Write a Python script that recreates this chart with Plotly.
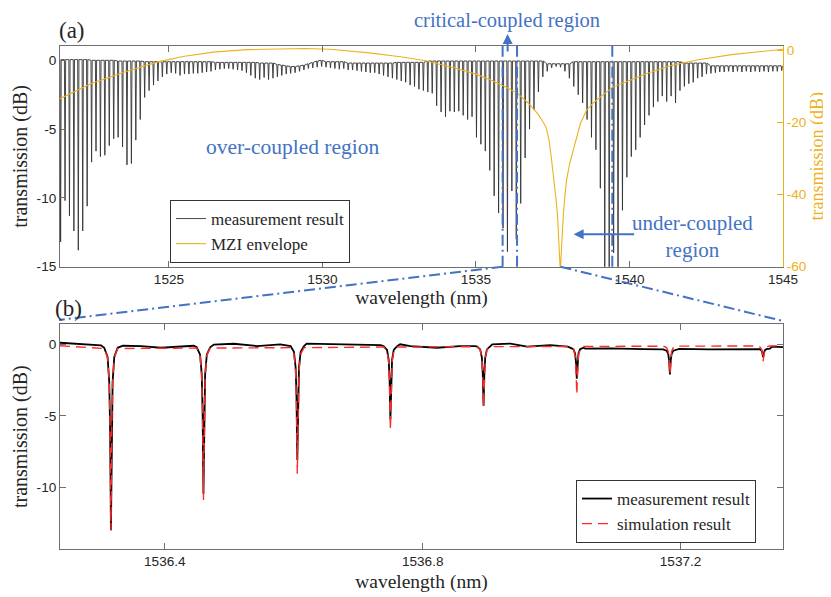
import numpy as np
import plotly.graph_objects as go

# ---------------- data: panel (a) ----------------
FIRST_DIP_A = 1521.47      # nm, first resonance in panel (a)
FSR_A = 0.1441             # nm, resonance spacing
DIP_HALF_A = 0.02          # nm, half width used to draw each dip

DEPTH_A = [
    -13.2, -10.2, -11.3, -12.4, -13.8, -12.4, -10.6, -7.4, -6.6, -7.0,
    -6.9, -6.2, -5.7, -5.6, -6.3, -7.6, -7.5, -5.8, -4.3, -2.7,
    -2.2, -1.8, -1.5, -1.2, -1.0, -0.9, -0.95, -1.1, -1.0, -1.0,
    -0.95, -0.95, -0.9, -0.85, -0.8, -0.7, -0.65, -0.6, -0.6, -0.65,
    -0.7, -0.75, -0.9, -1.1, -1.3, -1.4, -1.25, -1.4, -1.3, -1.2,
    -1.1, -1.0, -0.95, -0.9, -0.8, -0.7, -0.6, -0.55, -0.5, -0.45,
    -0.5, -0.55, -0.6, -0.65, -0.6, -0.7, -0.7, -0.75, -0.8, -0.85,
    -0.9, -0.9, -1.0, -1.1, -1.2, -1.3, -1.4, -1.5, -1.6, -1.8,
    -1.9, -2.1, -2.2, -2.3, -2.4, -3.3, -3.75, -4.1, -3.7, -3.75,
    -3.7, -4.0, -4.3, -4.1, -5.6, -6.1, -6.6, -8.0, -9.85, -11.1,
    -12.2, -13.9, -9.5, -13.0, -10.4, -7.1, -5.0, -3.6, -2.3, -1.2,
    -0.8, -0.55, -0.45, -0.5, -0.8, -1.3, -1.9, -2.5, -3.1, -4.3,
    -5.6, -6.5, -9.3, -16.0, -16.0, -14.0, -16.0, -10.9, -8.5, -7.0,
    -6.5, -5.6, -4.7, -4.0, -3.4, -3.0, -2.6, -3.0, -2.6, -3.1,
    -2.2, -1.9, -1.7, -1.6, -1.3, -1.2, -1.0, -0.95, -0.9, -0.85,
    -0.85, -0.8, -0.85, -0.8, -0.85, -0.8, -0.85, -0.8, -0.85, -0.8,
    -0.85, -0.8, -0.8, -0.75,
]
TOP_A = (
    [0.05] * 7 + [0.0] * 6 + [-0.05] * 6 + [-0.1] * 16 + [-0.15] * 10
    + [-0.2] * 4 + [-0.3, -0.35, -0.4, -0.45, -0.45, -0.4, -0.35, -0.25, -0.15, -0.05, 0.0]
    + [-0.1] * 5 + [-0.2] * 11 + [-0.15] * 7 + [-0.05] * 27
    + [-0.25] * 6 + [-0.1] * 25 + [-0.2] * 6 + [-0.4] * 17
)

MZI_NM = [1521.45, 1522.47, 1523.56, 1524.64, 1525.46, 1526.44, 1527.54, 1528.62,
          1529.44, 1530.25, 1531.52, 1532.54, 1533.32, 1534.40, 1535.00, 1535.50,
          1536.00, 1536.36, 1536.70, 1537.00, 1537.15, 1537.29, 1537.38, 1537.45,
          1537.53, 1537.61, 1537.66, 1537.70, 1537.73, 1537.75, 1537.77, 1537.80,
          1537.85, 1537.90, 1537.95, 1538.05, 1538.17, 1538.28, 1538.40, 1538.60,
          1538.82, 1539.05, 1539.46, 1540.02, 1540.54, 1541.36, 1542.24, 1543.33,
          1544.42, 1545.00]
MZI_DB = [-13.4, -9.2, -6.0, -3.2, -1.7, -0.5, 0.2, 0.45,
          0.5, 0.3, -0.7, -1.8, -2.8, -5.1, -6.6, -8.3,
          -10.3, -12.0, -14.6, -17.5, -19.3, -21.5, -25.0, -29.5,
          -35.0, -41.5, -46.5, -52.6, -57.5, -62.0, -57.5, -52.0,
          -45.0, -40.0, -36.0, -31.5, -27.7, -23.5, -20.3, -16.6,
          -14.6, -12.9, -10.2, -8.3, -6.5, -4.2, -2.6, -1.2,
          -0.3, 0.3]

# ---------------- data: panel (b) ----------------
B_DIP_NM = [1536.3164, 1536.4599, 1536.6055, 1536.7499, 1536.8944, 1537.0390, 1537.1835, 1537.3280]
B_MEAS_DEPTH = [-13.0, -10.45, -8.1, -5.26, -4.3, -2.4, -2.1, -0.9]
B_MEAS_LOCAL = [-0.05, -0.05, 0.0, -0.05, -0.08, -0.2, -0.33, -0.3]
B_SIM_DEPTH = [-13.0, -10.9, -9.05, -6.0, -4.4, -3.5, -2.1, -1.2]
B_SIM_LOCAL = [-0.1] * 8

B_MEAS_BASE_NM = [1536.2374, 1536.275, 1536.301, 1536.335, 1536.363, 1536.394, 1536.42,
                  1536.445, 1536.476, 1536.507, 1536.543, 1536.579, 1536.620, 1536.662,
                  1536.704, 1536.735, 1536.765, 1536.781, 1536.822, 1536.858, 1536.880,
                  1536.908, 1536.936, 1536.962, 1536.998, 1537.025, 1537.052, 1537.091,
                  1537.142, 1537.169, 1537.198, 1537.245, 1537.314, 1537.342, 1537.3589]
B_MEAS_BASE_DB = [0.11, 0.0, -0.07, -0.1, -0.12, -0.24, -0.16,
                  -0.1, -0.02, 0.04, -0.12, 0.0, 0.05, 0.03,
                  -0.02, -0.05, 0.0, -0.12, -0.24, -0.12, -0.12,
                  0.0, 0.05, -0.16, -0.05, -0.16, -0.3, -0.28,
                  -0.33, -0.34, -0.32, -0.35, -0.35, -0.16, -0.2]
B_SIM_BASE_NM = [1536.2374, 1537.3589]
B_SIM_BASE_DB = [-0.1, -0.1]

# resonance line-shape template (b)
SHAPE_OFFSET_NM = [-0.0104, -0.0052, -0.0026, -0.0013, 0.0, 0.0013, 0.0026, 0.0052, 0.0104]
SHAPE_FRAC = [0.015, 0.065, 0.2, 0.45, 1.0, 0.45, 0.2, 0.065, 0.015]

# ---------------- styles ----------------
SERIF = "Liberation Serif, Times New Roman, serif"
SANS = "Liberation Sans, Arial, sans-serif"
AX = "#6f6f6f"
TXT = "#262626"
ORANGE = "#EDB120"
BLUE = "#4472C4"

# the page body adds an 8px margin; size the figure so it ends at the window edge
OFF = 8
W, H = 831 - OFF, 597 - OFF
ML, MR, MT, MB = 60 - OFF, W - (783 - OFF), 46 - OFF, H - (549 - OFF)
PW, PH = W - ML - MR, H - MT - MB


def px(sx):
    """screen pixel x -> paper x"""
    return (sx - OFF - ML) / PW


def py(sy):
    """screen pixel y -> paper y"""
    return (H - MB - (sy - OFF)) / PH


A_DOM = [py(266.7), 1.0]
B_DOM = [0.0, py(324.3)]
A_XR = [1521.45, 1545.0]
B_XR = [1536.2374, 1537.3589]

# ---------------- build traces ----------------
centers_a = FIRST_DIP_A + FSR_A * np.arange(len(DEPTH_A))
xa, ya = [], []
for c, d, t in zip(centers_a, DEPTH_A, TOP_A):
    xa += [c - DIP_HALF_A, c, c + DIP_HALF_A]
    ya += [t, d, t]


def build_b(base_nm, base_db, centers, depths, locals_):
    pts = []
    for xb, yb in zip(base_nm, base_db):
        if all(abs(xb - c) > SHAPE_OFFSET_NM[-1] for c in centers):
            pts.append((xb, yb))
    for c, d, l in zip(centers, depths, locals_):
        for o, f in zip(SHAPE_OFFSET_NM, SHAPE_FRAC):
            pts.append((c + o, l + f * (d - l)))
    pts.sort()
    return [p[0] for p in pts], [p[1] for p in pts]


xbm, ybm = build_b(B_MEAS_BASE_NM, B_MEAS_BASE_DB, B_DIP_NM, B_MEAS_DEPTH, B_MEAS_LOCAL)
xbs, ybs = build_b(B_SIM_BASE_NM, B_SIM_BASE_DB, B_DIP_NM, B_SIM_DEPTH, B_SIM_LOCAL)

fig = go.Figure()
fig.add_trace(go.Scatter(x=xa, y=ya, mode="lines", name="measurement result",
                         line=dict(color="#333333", width=0.9), xaxis="x", yaxis="y",
                         legend="legend"))
fig.add_trace(go.Scatter(x=MZI_NM, y=MZI_DB, mode="lines", name="MZI envelope",
                         line=dict(color=ORANGE, width=1.1),
                         xaxis="x", yaxis="y2", legend="legend"))
fig.add_trace(go.Scatter(x=xbm, y=ybm, mode="lines", name="measurement result",
                         line=dict(color="black", width=1.8), xaxis="x2", yaxis="y3",
                         legend="legend2"))
fig.add_trace(go.Scatter(x=xbs, y=ybs, mode="lines", name="simulation result",
                         line=dict(color="#ff2a2a", width=1.4, dash="10px,6px"),
                         xaxis="x2", yaxis="y3", legend="legend2"))

tickfont = dict(family=SANS, size=13.6, color=TXT)
common = dict(showgrid=False, zeroline=False, showline=True, linecolor=AX, linewidth=1,
              ticks="inside", ticklen=6, tickcolor=AX, tickfont=tickfont, automargin=False)

fig.update_layout(
    width=W, height=H, margin=dict(l=ML, r=MR, t=MT, b=MB, autoexpand=False),
    paper_bgcolor="white", plot_bgcolor="white", showlegend=True,
    xaxis=dict(domain=[0, 1], anchor="y", range=A_XR, mirror="ticks",
               tickvals=[1525, 1530, 1535, 1540, 1545],
               title=dict(text="wavelength (nm)", font=dict(family=SERIF, size=19.5, color=TXT),
                          standoff=4), **common),
    yaxis=dict(domain=A_DOM, anchor="x", range=[-15, 1.04],
               tickvals=[0, -5, -10, -15], ticktext=["0", "-5", "-10", "-15"],
               title=dict(text="transmission (dB)", font=dict(family=SERIF, size=20, color=TXT),
                          standoff=3), **common),
    yaxis2=dict(overlaying="y", side="right", anchor="x", range=[-60, 1.2],
                tickvals=[0, -20, -40, -60], ticktext=["0", "-20", "-40", "-60"],
                showgrid=False, zeroline=False, showline=True, linecolor=ORANGE, linewidth=1,
                ticks="inside", ticklen=6, tickcolor=ORANGE, automargin=False,
                tickfont=dict(family=SANS, size=13.6, color=ORANGE),
                title=dict(text="transmission (dB)", font=dict(family=SERIF, size=18, color=ORANGE),
                           standoff=1)),
    xaxis2=dict(domain=[0, 1], anchor="y3", range=B_XR, mirror="ticks",
                tickvals=[1536.4, 1536.8, 1537.2], ticktext=["1536.4", "1536.8", "1537.2"],
                title=dict(text="wavelength (nm)", font=dict(family=SERIF, size=19.5, color=TXT),
                           standoff=6), **common),
    yaxis3=dict(domain=B_DOM, anchor="x2", range=[-14.32, 1.40], mirror="ticks",
                tickvals=[0, -5, -10], ticktext=["0", "-5", "-10"],
                title=dict(text="transmission (dB)", font=dict(family=SERIF, size=20, color=TXT),
                           standoff=3), **common),
    legend=dict(x=px(170), y=py(200), xanchor="left", yanchor="top",
                bgcolor="white", bordercolor="#333333", borderwidth=1,
                font=dict(family=SERIF, size=17, color=TXT), tracegroupgap=0),
    legend2=dict(x=px(576), y=py(480), xanchor="left", yanchor="top",
                 bgcolor="white", bordercolor="#333333", borderwidth=1,
                 font=dict(family=SERIF, size=17, color=TXT), tracegroupgap=0),
)

# ---------------- region markers ----------------
DASHDOT = "11px,4px,2px,4px"
crit_left, crit_right, under_line, mzi_null = 1535.867, 1536.337, 1539.44, 1537.75
for xv in (crit_left, crit_right, under_line):
    fig.add_shape(type="line", xref="x", yref="y domain", x0=xv, x1=xv, y0=0, y1=1,
                  line=dict(color=BLUE, width=2, dash=DASHDOT))


def xa_paper(v):
    return (v - A_XR[0]) / (A_XR[1] - A_XR[0])


fig.add_shape(type="line", xref="paper", yref="paper",
              x0=xa_paper(crit_left), y0=A_DOM[0], x1=px(59), y1=py(320),
              line=dict(color=BLUE, width=2, dash=DASHDOT))
fig.add_shape(type="line", xref="paper", yref="paper",
              x0=xa_paper(mzi_null), y0=A_DOM[0], x1=1.0, y1=py(321),
              line=dict(color=BLUE, width=2, dash=DASHDOT))


def label(text, sx, sy, size, color):
    return dict(text=text, x=px(sx), y=py(sy), xref="paper", yref="paper",
                xanchor="center", yanchor="middle", showarrow=False,
                font=dict(family=SERIF, size=size, color=color))


ann = [
    label("(a)", 71.5, 31, 23, TXT),
    label("(b)", 68, 308, 23, TXT),
    label("critical-coupled region", 507, 20, 20.5, BLUE),
    label("over-coupled region", 293, 147, 21.5, BLUE),
    label("under-coupled<br>region", 692.5, 236, 21, BLUE),
    # arrows
    dict(text="", x=1536.03, y=py(34), xref="x", yref="paper", ax=0, ay=19,
         showarrow=True, arrowhead=2, arrowsize=1, arrowwidth=2, arrowcolor=BLUE),
    dict(text="", x=1538.18, y=-12.65, xref="x", yref="y", ax=62, ay=0,
         showarrow=True, arrowhead=2, arrowsize=1, arrowwidth=2, arrowcolor=BLUE),
]
fig.update_layout(annotations=ann)

fig.write_html("out.html")
